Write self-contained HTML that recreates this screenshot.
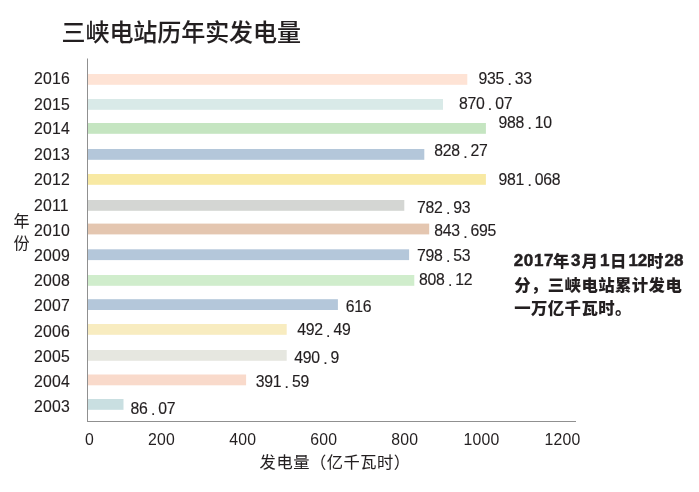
<!DOCTYPE html>
<html lang="zh-CN">
<head>
<meta charset="utf-8">
<title>三峡电站历年实发电量</title>
<style>
html,body{margin:0;padding:0;background:#fff;}
body{width:699px;height:492px;overflow:hidden;}
svg{display:block;}
text{font-family:"Liberation Sans","Noto Sans CJK SC",sans-serif;fill:#231f20;}
.t{font-size:24px;font-weight:500;stroke:#231f20;stroke-width:0.1px;}
.n{font-size:17px;stroke:#231f20;stroke-width:0.15px;}
.x{stroke:none;}
.c{font-size:15.5px;stroke:#231f20;stroke-width:0.05px;}
.b{font-size:16.4px;font-weight:900;}
.bd{font-size:17px;font-weight:700;stroke:#231f20;stroke-width:0.5px;}
</style>
</head>
<body>
<svg width="699" height="492" viewBox="0 0 699 492">
<rect width="699" height="492" fill="#fff"/>

<text class="t" x="61.5" y="40.8" textLength="239.5" lengthAdjust="spacing">三峡电站历年实发电量</text>
<rect x="88" y="74.00" width="379.30" height="10.8" fill="#fee3d5"/>
<rect x="88" y="99.00" width="355.00" height="10.8" fill="#d9eae8"/>
<rect x="88" y="123.00" width="397.90" height="10.8" fill="#c5e5c1"/>
<rect x="88" y="149.00" width="336.30" height="10.8" fill="#b4c7da"/>
<rect x="88" y="174.00" width="397.90" height="10.8" fill="#f8e9a3"/>
<rect x="88" y="200.00" width="316.30" height="10.8" fill="#d4d6d3"/>
<rect x="88" y="223.60" width="341.20" height="10.8" fill="#e4c6b0"/>
<rect x="88" y="249.30" width="321.10" height="10.8" fill="#b4c7da"/>
<rect x="88" y="275.00" width="326.30" height="10.8" fill="#d0edcc"/>
<rect x="88" y="299.20" width="249.90" height="10.8" fill="#b4c7da"/>
<rect x="88" y="324.00" width="198.70" height="10.8" fill="#f8ecc0"/>
<rect x="88" y="350.00" width="198.70" height="10.8" fill="#e6e7e0"/>
<rect x="88" y="374.50" width="158.10" height="10.8" fill="#f9dacb"/>
<rect x="88" y="399.00" width="35.50" height="10.8" fill="#c9dfe1"/>
<rect x="87" y="58.5" width="1" height="363" fill="#909090"/>
<rect x="87" y="421" width="489" height="1" fill="#909090"/>
<text class="n" style="letter-spacing:0.25px" transform="translate(33.90 84.20) scale(0.930 1)">2016</text>
<text class="n" style="letter-spacing:0.25px" transform="translate(33.90 109.70) scale(0.930 1)">2015</text>
<text class="n" style="letter-spacing:0.25px" transform="translate(33.90 134.20) scale(0.930 1)">2014</text>
<text class="n" style="letter-spacing:0.25px" transform="translate(33.90 159.80) scale(0.930 1)">2013</text>
<text class="n" style="letter-spacing:0.25px" transform="translate(33.90 185.00) scale(0.930 1)">2012</text>
<text class="n" style="letter-spacing:0.25px" transform="translate(33.90 210.80) scale(0.930 1)">2011</text>
<text class="n" style="letter-spacing:0.25px" transform="translate(33.90 236.20) scale(0.930 1)">2010</text>
<text class="n" style="letter-spacing:0.25px" transform="translate(33.90 260.60) scale(0.930 1)">2009</text>
<text class="n" style="letter-spacing:0.25px" transform="translate(33.90 285.80) scale(0.930 1)">2008</text>
<text class="n" style="letter-spacing:0.25px" transform="translate(33.90 311.30) scale(0.930 1)">2007</text>
<text class="n" style="letter-spacing:0.25px" transform="translate(33.90 336.50) scale(0.930 1)">2006</text>
<text class="n" style="letter-spacing:0.25px" transform="translate(33.90 361.90) scale(0.930 1)">2005</text>
<text class="n" style="letter-spacing:0.25px" transform="translate(33.90 386.60) scale(0.930 1)">2004</text>
<text class="n" style="letter-spacing:0.25px" transform="translate(33.90 411.80) scale(0.930 1)">2003</text>
<text class="n" style="letter-spacing:-0.30px" transform="translate(478.60 84.30) scale(0.930 1)">935<tspan dx="3.55" dy="1.1">.</tspan><tspan dx="3.55" dy="-1.1">33</tspan></text>
<text class="n" style="letter-spacing:-0.30px" transform="translate(458.90 109.20) scale(0.930 1)">870<tspan dx="3.55" dy="1.1">.</tspan><tspan dx="3.55" dy="-1.1">07</tspan></text>
<text class="n" style="letter-spacing:-0.30px" transform="translate(498.60 127.80) scale(0.930 1)">988<tspan dx="3.55" dy="1.1">.</tspan><tspan dx="3.55" dy="-1.1">10</tspan></text>
<text class="n" style="letter-spacing:-0.30px" transform="translate(434.30 156.40) scale(0.930 1)">828<tspan dx="3.55" dy="1.1">.</tspan><tspan dx="3.55" dy="-1.1">27</tspan></text>
<text class="n" style="letter-spacing:-0.30px" transform="translate(498.60 185.30) scale(0.930 1)">981<tspan dx="3.55" dy="1.1">.</tspan><tspan dx="3.55" dy="-1.1">068</tspan></text>
<text class="n" style="letter-spacing:-0.30px" transform="translate(417.10 212.80) scale(0.930 1)">782<tspan dx="3.55" dy="1.1">.</tspan><tspan dx="3.55" dy="-1.1">93</tspan></text>
<text class="n" style="letter-spacing:-0.30px" transform="translate(434.30 236.40) scale(0.930 1)">843<tspan dx="3.55" dy="1.1">.</tspan><tspan dx="3.55" dy="-1.1">695</tspan></text>
<text class="n" style="letter-spacing:-0.30px" transform="translate(417.10 260.80) scale(0.930 1)">798<tspan dx="3.55" dy="1.1">.</tspan><tspan dx="3.55" dy="-1.1">53</tspan></text>
<text class="n" style="letter-spacing:-0.30px" transform="translate(419.10 285.30) scale(0.930 1)">808<tspan dx="3.55" dy="1.1">.</tspan><tspan dx="3.55" dy="-1.1">12</tspan></text>
<text class="n" style="letter-spacing:-0.30px" transform="translate(345.80 312.30) scale(0.930 1)">616</text>
<text class="n" style="letter-spacing:-0.30px" transform="translate(297.20 335.40) scale(0.930 1)">492<tspan dx="3.55" dy="1.1">.</tspan><tspan dx="3.55" dy="-1.1">49</tspan></text>
<text class="n" style="letter-spacing:-0.30px" transform="translate(294.30 363.00) scale(0.930 1)">490<tspan dx="3.55" dy="1.1">.</tspan><tspan dx="3.55" dy="-1.1">9</tspan></text>
<text class="n" style="letter-spacing:-0.30px" transform="translate(255.70 387.30) scale(0.930 1)">391<tspan dx="3.55" dy="1.1">.</tspan><tspan dx="3.55" dy="-1.1">59</tspan></text>
<text class="n" style="letter-spacing:-0.30px" transform="translate(130.60 414.30) scale(0.930 1)">86<tspan dx="3.55" dy="1.1">.</tspan><tspan dx="3.55" dy="-1.1">07</tspan></text>
<text class="n x" style="letter-spacing:0.25px" transform="translate(94.00 445.00) scale(0.930 1)" text-anchor="end">0</text>
<text class="n x" style="letter-spacing:0.25px" transform="translate(175.10 445.00) scale(0.930 1)" text-anchor="end">200</text>
<text class="n x" style="letter-spacing:0.25px" transform="translate(256.20 445.00) scale(0.930 1)" text-anchor="end">400</text>
<text class="n x" style="letter-spacing:0.25px" transform="translate(337.30 445.00) scale(0.930 1)" text-anchor="end">600</text>
<text class="n x" style="letter-spacing:0.25px" transform="translate(418.40 445.00) scale(0.930 1)" text-anchor="end">800</text>
<text class="n x" style="letter-spacing:0.25px" transform="translate(499.50 445.00) scale(0.930 1)" text-anchor="end">1000</text>
<text class="n x" style="letter-spacing:0.25px" transform="translate(580.60 445.00) scale(0.930 1)" text-anchor="end">1200</text>
<text class="c" style="font-size:16.3px" x="259.6" y="468.3" textLength="150.5" lengthAdjust="spacing">发电量（亿千瓦时）</text>
<text class="c" style="font-size:16px" x="13.5" y="226.6">年</text>
<text class="c" style="font-size:16px" x="13.5" y="249.2">份</text>
<text class="b"><tspan class="bd" style="letter-spacing:0.60px" x="513.8" y="265.5">2017</tspan><tspan x="553.0" y="267.4">年</tspan><tspan class="bd" style="letter-spacing:0.00px" x="570.9" y="265.5">3</tspan><tspan x="581.4" y="267.4">月</tspan><tspan class="bd" style="letter-spacing:0.00px" x="600.0" y="265.5">1</tspan><tspan x="610.0" y="267.4">日</tspan><tspan class="bd" style="letter-spacing:-0.40px" x="628.6" y="265.5">12</tspan><tspan x="646.9" y="267.4">时</tspan><tspan class="bd" style="letter-spacing:0.00px" x="664.5" y="265.5">28</tspan></text>
<text class="b" x="514.2 531.0 547.8 564.6 581.4 598.2 615.0 631.8 648.6 665.4" y="290.7">分，三峡电站累计发电</text>
<text class="b" x="514.2 531.0 547.8 564.6 581.4 598.2 615.0" y="314.2">一万亿千瓦时。</text>
</svg>
</body>
</html>
